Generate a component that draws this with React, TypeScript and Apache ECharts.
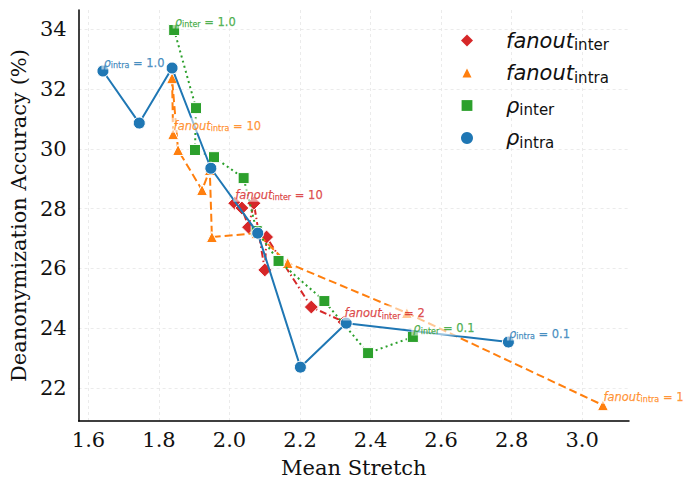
import React, { useEffect, useRef } from "react";
import * as echarts from "echarts";

// ---- data ----
const fanoutInterX = [2.015, 2.035, 2.054, 2.069, 2.1, 2.105, 2.232, 2.325];
const fanoutInterY = [28.18, 28.02, 27.38, 28.18, 25.95, 27.05, 24.71, 24.21];

const fanoutIntraX = [1.84, 1.837, 1.854, 1.922, 1.944, 1.95, 2.077, 2.165, 2.503, 3.059];
const fanoutIntraY = [30.49, 32.36, 29.96, 28.62, 29.29, 27.05, 27.18, 26.18, 24.51, 21.43];

const rhoInterX = [1.843, 1.905, 1.902, 1.956, 2.04, 2.077, 2.139, 2.269, 2.393, 2.52];
const rhoInterY = [33.97, 31.36, 29.96, 29.72, 29.02, 27.25, 26.25, 24.91, 23.17, 23.71];

const rhoIntraX = [1.641, 1.744, 1.837, 1.947, 2.08, 2.201, 2.331, 2.791];
const rhoIntraY = [32.6, 30.86, 32.7, 29.35, 27.18, 22.7, 24.17, 23.54];

const seriesNames = ["fanout_inter", "fanout_intra", "rho_inter", "rho_intra"];
const legendSymbols = ["fanout", "fanout", "ρ", "ρ"];
const legendSubs = ["inter", "intra", "inter", "intra"];

// endpoint annotations (value of the parameter at the first and last point)
const firstLabels = ["10", "10", "1.0", "1.0"];
const lastLabels = ["2", "1", "0.1", "0.1"];

const COLORS = ["#d62728", "#ff7f0e", "#2ca02c", "#1f77b4"];
const SYMBOLS = ["diamond", "triangle", "rect", "circle"];
const LEGEND_ICONS = [
  "diamond",
  "path://M0,0M12,12M6,1.5L10.5,10.5L1.5,10.5Z",
  "path://M0,0M12,12M0.6,0.6L11.4,0.6L11.4,11.4L0.6,11.4Z",
  "circle",
];
const SYMBOL_SIZES = [14, 11, 11, 12];
const DASHES: any[] = [[7, 3, 1.5, 3], [8, 4], [2, 3.3], "solid"];

const XS = [fanoutInterX, fanoutIntraX, rhoInterX, rhoIntraX];
const YS = [fanoutInterY, fanoutIntraY, rhoInterY, rhoIntraY];

const SANS = "DejaVu Sans";
const SERIF = "DejaVu Serif";

function zip(xs: number[], ys: number[]) {
  return xs.map((x, i) => [x, ys[i]]);
}

export default function App() {
  const ref = useRef<HTMLDivElement>(null);
  useEffect(() => {
    document.body.style.margin = "0";
    const chart = echarts.init(ref.current!, null, { renderer: "svg" });

    const lineSeries = seriesNames.map((name, k) => ({
      name,
      type: "line",
      data: zip(XS[k], YS[k]),
      symbol: SYMBOLS[k],
      symbolSize: SYMBOL_SIZES[k],
      showAllSymbol: true,
      itemStyle: { color: COLORS[k], borderColor: "#ffffff", borderWidth: 1 },
      lineStyle: { color: COLORS[k], width: 2, type: DASHES[k] },
      z: 2 + k,
      silent: true,
    }));

    const annData: any[] = [];
    seriesNames.forEach((_, k) => {
      const n = XS[k].length;
      const pts = [
        [0, firstLabels[k]],
        [n - 1, lastLabels[k]],
      ] as [number, string][];
      pts.forEach(([i, v]) => {
        const tok = {
          fontFamily: SANS,
          color: COLORS[k],
          textBorderColor: COLORS[k],
          textBorderWidth: 0.25,
        };
        annData.push({
          value: [XS[k][i], YS[k][i]],
          label: {
            show: true,
            position: [-1, -8.5],
            align: "left",
            verticalAlign: "middle",
            backgroundColor: "rgba(255,255,255,0.7)",
            padding: [1, 2, 0, 2],
            formatter: `{m|${legendSymbols[k]}}{s|${legendSubs[k]}}{n| = ${v}}`,
            rich: {
              m: { ...tok, fontStyle: "italic", fontSize: 11.5, lineHeight: 14, verticalAlign: "middle" },
              s: { ...tok, fontSize: 8, lineHeight: 8.5, verticalAlign: "bottom" },
              n: { ...tok, fontSize: 11.5, lineHeight: 14, verticalAlign: "middle" },
            },
          },
        });
      });
    });

    const option: any = {
      animation: false,
      backgroundColor: "#ffffff",
      grid: { left: 76, right: 61, top: 10, bottom: 68, containLabel: false },
      xAxis: {
        type: "value",
        min: 1.572,
        max: 3.133,
        splitNumber: 8,
        name: "Mean Stretch",
        nameLocation: "middle",
        nameGap: 36,
        nameTextStyle: { fontFamily: SERIF, fontSize: 21, color: "#111" },
        axisLine: { show: true, onZero: false, lineStyle: { color: "#000", width: 1.5 } },
        axisTick: { show: false },
        axisLabel: {
          fontFamily: SERIF,
          fontSize: 21,
          color: "#111",
          margin: 8,
          showMinLabel: false,
          showMaxLabel: false,
          formatter: (v: number) => v.toFixed(1),
        },
        splitLine: {
          show: true,
          showMinLine: false,
          showMaxLine: false,
          lineStyle: { color: "#e6e6e6", width: 0.8, type: [3, 3] },
        },
      },
      yAxis: {
        type: "value",
        min: 20.9,
        max: 34.64,
        splitNumber: 7,
        name: "Deanonymization Accuracy (%)",
        nameLocation: "middle",
        nameGap: 36,
        nameTextStyle: { fontFamily: SERIF, fontSize: 21, color: "#111" },
        axisLine: { show: true, onZero: false, lineStyle: { color: "#000", width: 1.5 } },
        axisTick: { show: false },
        axisLabel: {
          fontFamily: SERIF,
          fontSize: 21,
          color: "#111",
          margin: 12,
          showMinLabel: false,
          showMaxLabel: false,
          formatter: (v: number) => String(Math.round(v)),
        },
        splitLine: {
          show: true,
          showMinLine: false,
          showMaxLine: false,
          lineStyle: { color: "#e6e6e6", width: 0.8, type: [3, 3] },
        },
      },
      legend: {
        orient: "vertical",
        left: 461,
        top: 30,
        padding: 0,
        itemWidth: 12,
        itemHeight: 12,
        itemGap: 10,
        selectedMode: false,
        data: seriesNames.map((name, k) => ({ name, icon: LEGEND_ICONS[k], itemStyle: { color: COLORS[k], borderWidth: 0 } })),
        formatter: (name: string) => {
          const k = seriesNames.indexOf(name);
          return `{m|${legendSymbols[k]}}{s|${legendSubs[k]}}`;
        },
        textStyle: {
          padding: [0, 0, 0, 28],
          rich: {
            m: { fontFamily: SANS, fontStyle: "italic", fontSize: 21, lineHeight: 24, color: "#111", verticalAlign: "middle" },
            s: { fontFamily: SANS, fontSize: 15, lineHeight: 15, color: "#111", verticalAlign: "bottom" },
          },
        },
      },
      series: [
        ...lineSeries,
        {
          name: "annotations",
          type: "scatter",
          data: annData,
          symbolSize: 1,
          itemStyle: { color: "rgba(0,0,0,0)" },
          z: 20,
          silent: true,
        },
      ],
    };

    chart.setOption(option);
    return () => chart.dispose();
  }, []);
  return <div ref={ref} style={{ width: 690, height: 489 }} />;
}
